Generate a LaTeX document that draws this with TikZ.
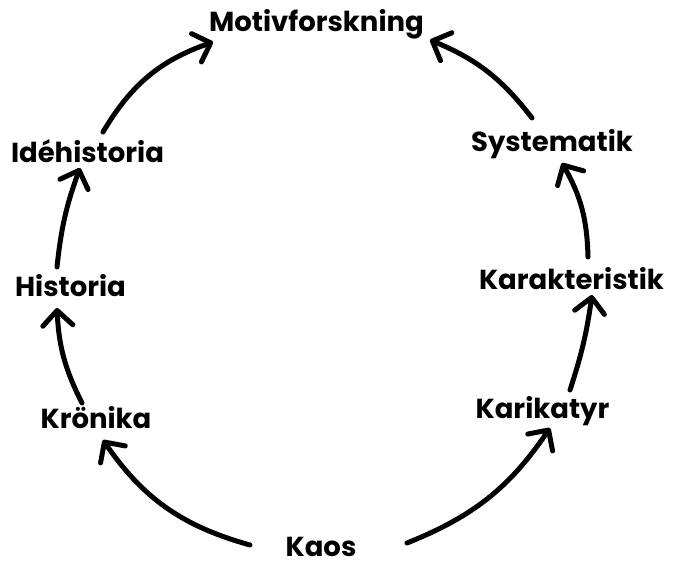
\documentclass[tikz,border=0pt]{standalone}
\usepackage{fontspec}
\setmainfont{Poppins}
\usetikzlibrary{arrows.meta}
\tikzset{
  word/.style={anchor=base, inner sep=0pt, font=\fontsize{27.5}{33}\selectfont\bfseries},
  flow/.style={line width=5pt, line cap=round,
    -{Straight Barb[length=15pt, width=30pt, line width=5pt, round]}}
}
\begin{document}
\begin{tikzpicture}[x=1pt,y=1pt]
\useasboundingbox (0,0) rectangle (675,563);
\node [word] (motiv) at (316.5,531) {Motivforskning};
\node [word] (idehist) at (87.5,400) {Idéhistoria};
\node [word] (hist) at (70.5,266) {Historia};
\node [word] (kron) at (96,135) {Krönika};
\node [word] (kaos) at (321,7) {Kaos};
\node [word] (karik) at (542.5,145) {Karikatyr};
\node [word] (karak) at (571.5,273) {Karakteristik};
\node [word] (syst) at (552,411) {Systematik};
\draw [flow] ([shift={(-71,11)}]kaos.base) to [bend left=20] ([shift={(7,-12)}]kron.base);
\draw [flow] ([shift={(-14,25)}]kron.base) to [bend left=12] ([shift={(-13.5,-11)}]hist.base);
\draw [flow] ([shift={(-13.5,30)}]hist.base) to [bend left=7] ([shift={(-7.5,-5)}]idehist.base);
\draw [flow] ([shift={(15.5,31)}]idehist.base) to [bend left=20] ([shift={(-103.5,-10)}]motiv.base);
\draw [flow] ([shift={(86,13)}]kaos.base) to [bend right=17] ([shift={(7.5,-10)}]karik.base);
\draw [flow] ([shift={(27.5,28)}]karik.base) to [bend right=5] ([shift={(20.5,-5)}]karak.base);
\draw [flow] ([shift={(16.5,33)}]karak.base) to [bend right=14] ([shift={(10,-11)}]syst.base);
\draw [flow] ([shift={(-20,34)}]syst.base) to [bend right=15] ([shift={(113.5,-8)}]motiv.base);
\end{tikzpicture}
\end{document}
